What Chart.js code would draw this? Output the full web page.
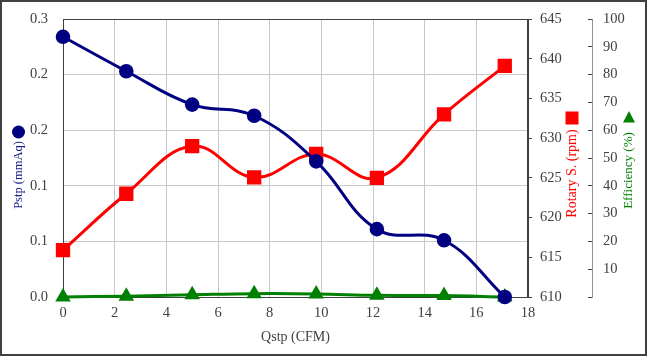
<!DOCTYPE html>
<html>
<head>
<meta charset="utf-8">
<script src="https://cdn.jsdelivr.net/npm/chart.js@4/dist/chart.umd.min.js"></script>
<style>
  html, body { margin: 0; padding: 0; background: #fff; }
  #wrap { width: 647px; height: 356px; position: relative; }
</style>
</head>
<body>
<div id="wrap"><canvas id="c" width="647" height="356"></canvas></div>
<script>
// ---- data ----
const qstp = [0.0, 2.45, 5.0, 7.4, 9.8, 12.15, 14.75, 17.1];
const pstp = [0.234, 0.203, 0.173, 0.163, 0.122, 0.061, 0.051, 0.0];
const rotary = [615.9, 623.0, 629.0, 625.05, 628.0, 625.0, 633.0, 639.1];
const efficiency = [0.0, 0.3, 0.8, 1.2, 1.1, 0.6, 0.5, 0.0];
const pstpTickLabels = ['0.0', '0.1', '0.1', '0.2', '0.2', '0.3'];
const xTitle = 'Qstp (CFM)';
const pstpTitle = 'Pstp (mmAq)';
const rotaryTitle = 'Rotary S. (rpm)';
const effTitle = 'Efficiency (%)';

const NAVY = '#000080', RED = '#ff0000', GREEN = '#008000';
const FONT = "'Liberation Serif', 'Times New Roman', serif";
const TICKCOL = '#404040';

const pts = ys => qstp.map((x, i) => ({x: x, y: ys[i]}));

const noPad = s => { s.paddingTop = 0; s.paddingBottom = 0; s.paddingLeft = 0; s.paddingRight = 0; };

const decor = {
  id: 'decor',
  beforeDatasetsDraw(chart) {
    const {ctx, chartArea: a} = chart;
    ctx.save();
    ctx.strokeStyle = '#404040';
    ctx.lineWidth = 1;
    ctx.strokeRect(Math.round(a.left) + 0.5, Math.round(a.top) + 0.5,
                   Math.round(a.right - a.left) - 1, Math.round(a.bottom - a.top));
    ctx.restore();
  },
  afterDraw(chart) {
    const {ctx, chartArea: a} = chart;
    ctx.save();
    // outer frame
    ctx.strokeStyle = '#404040';
    ctx.lineWidth = 2;
    ctx.strokeRect(1, 1, 645, 354);
    // x title
    ctx.textAlign = 'center';
    ctx.textBaseline = 'middle';
    ctx.fillStyle = TICKCOL;
    ctx.font = '14px ' + FONT;
    ctx.fillText(xTitle, (a.left + a.right) / 2, 337);
    // left title
    ctx.save();
    ctx.translate(18.5, 175);
    ctx.rotate(-Math.PI / 2);
    ctx.fillStyle = '#1a1a8c';
    ctx.font = '12.5px ' + FONT;
    ctx.fillText(pstpTitle, 0, 0);
    ctx.restore();
    ctx.fillStyle = NAVY;
    ctx.beginPath();
    ctx.arc(18.5, 132, 6.5, 0, Math.PI * 2);
    ctx.fill();
    // rotary title
    ctx.save();
    ctx.translate(572, 173.5);
    ctx.rotate(-Math.PI / 2);
    ctx.fillStyle = RED;
    ctx.font = '14px ' + FONT;
    ctx.fillText(rotaryTitle, 0, 0);
    ctx.restore();
    ctx.fillStyle = RED;
    ctx.fillRect(572 - 6.5, 118 - 6.5, 13, 13);
    // efficiency title
    ctx.save();
    ctx.translate(629, 170.5);
    ctx.rotate(-Math.PI / 2);
    ctx.fillStyle = GREEN;
    ctx.font = '13px ' + FONT;
    ctx.fillText(effTitle, 0, 0);
    ctx.restore();
    ctx.fillStyle = GREEN;
    ctx.beginPath();
    ctx.moveTo(629 - 6, 117 + 5.5);
    ctx.lineTo(629 + 6, 117 + 5.5);
    ctx.lineTo(629, 117 - 6);
    ctx.closePath();
    ctx.fill();
    ctx.restore();
  }
};

const tickFont = {family: FONT, size: 14.5};

new Chart(document.getElementById('c'), {
  type: 'line',
  data: {
    datasets: [
      {label: 'Pstp', data: pts(pstp), yAxisID: 'y', borderColor: NAVY, backgroundColor: NAVY,
       borderWidth: 3, pointStyle: 'circle', pointRadius: 5.8, pointHoverRadius: 5.8, tension: 0.4, clip: false},
      {label: 'Rotary', data: pts(rotary), yAxisID: 'yR', borderColor: RED, backgroundColor: RED,
       borderWidth: 3, pointStyle: 'rect', pointRadius: 8, pointHoverRadius: 8, tension: 0.4, clip: false},
      {label: 'Efficiency', data: pts(efficiency), yAxisID: 'yE', borderColor: GREEN, backgroundColor: GREEN,
       borderWidth: 3, pointStyle: 'triangle', pointRadius: 6, pointHoverRadius: 6, tension: 0.4, clip: false}
    ]
  },
  options: {
    responsive: false,
    animation: false,
    devicePixelRatio: 1,
    layout: {padding: {top: 19, left: 0, right: 0, bottom: 0}},
    plugins: {legend: {display: false}, tooltip: {enabled: false}},
    events: [],
    scales: {
      x: {
        type: 'linear', min: 0, max: 18,
        afterFit: s => { s.height = 59; noPad(s); },
        ticks: {stepSize: 2, font: tickFont, color: TICKCOL, padding: 7, maxRotation: 0},
        grid: {color: '#c8c8c8', drawTicks: false},
        border: {color: '#404040'}
      },
      y: {
        position: 'left', min: 0, max: 0.25,
        afterFit: s => { s.width = 63; noPad(s); },
        ticks: {stepSize: 0.05, font: tickFont, color: TICKCOL, padding: 15,
                callback: (v, i) => pstpTickLabels[i]},
        grid: {color: '#c8c8c8', drawTicks: false},
        border: {color: '#404040'}
      },
      yR: {
        position: 'right', min: 610, max: 645,
        afterFit: s => { s.width = 64; noPad(s); },
        ticks: {stepSize: 5, font: tickFont, color: TICKCOL, padding: 8},
        grid: {drawOnChartArea: false, tickLength: 4, color: '#404040'},
        border: {color: '#404040'}
      },
      yE: {
        position: 'right', min: 0, max: 100,
        afterFit: s => { s.width = 55; noPad(s); },
        ticks: {stepSize: 10, font: tickFont, color: TICKCOL, padding: 15,
                callback: v => (v === 0 ? '' : String(v))},
        grid: {drawOnChartArea: false, tickLength: -4, color: '#404040'},
        border: {color: '#909090'}
      }
    }
  },
  plugins: [decor]
});
</script>
</body>
</html>
